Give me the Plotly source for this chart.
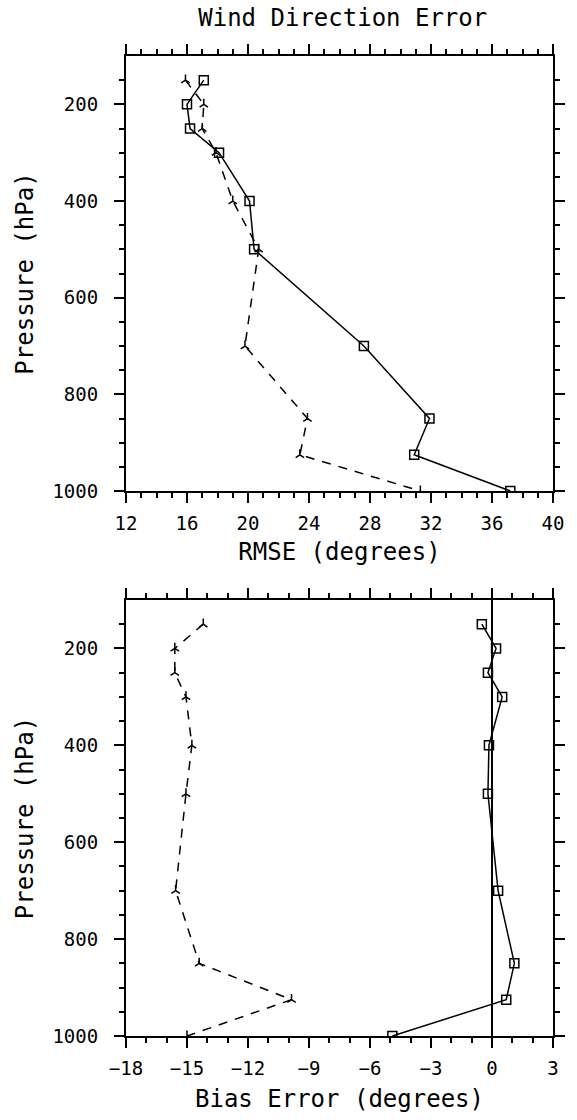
import plotly.graph_objects as go
from plotly.subplots import make_subplots

# Pressure levels (hPa)
pressure = [150, 200, 250, 300, 400, 500, 700, 850, 925, 1000]

# RMSE of wind direction (degrees)
rmse_solid = [17.1, 16.0, 16.2, 18.1, 20.1, 20.4, 27.6, 31.9, 30.9, 37.2]
rmse_dashed = [15.9, 17.1, 17.0, 17.9, 19.0, 20.7, 19.8, 23.9, 23.4, 31.3]

# Bias of wind direction (degrees)
bias_solid = [-0.5, 0.2, -0.2, 0.5, -0.15, -0.2, 0.3, 1.1, 0.7, -4.9]
bias_dashed = [-14.2, -15.6, -15.6, -15.05, -14.76, -15.05, -15.56, -14.4, -9.86, -15.0]

rmse_ticks = [12, 16, 20, 24, 28, 32, 36, 40]
bias_ticks = [-18, -15, -12, -9, -6, -3, 0, 3]
p_ticks = [200, 400, 600, 800, 1000]

FONT = "DejaVu Sans Mono"

fig = make_subplots(rows=2, cols=1, vertical_spacing=0.111)

def add_pair(row, solid, dashed):
    fig.add_trace(go.Scatter(
        x=solid, y=pressure, mode="lines+markers",
        line=dict(color="black", width=1.5),
        marker=dict(symbol="square-open", size=9, color="black",
                    line=dict(width=1.5, color="black")),
        showlegend=False), row=row, col=1)
    fig.add_trace(go.Scatter(
        x=dashed, y=pressure, mode="lines+markers",
        line=dict(color="black", width=1.5, dash="9px,8px"),
        marker=dict(symbol="y-up-open", size=7, color="black",
                    line=dict(width=1.5, color="black")),
        showlegend=False), row=row, col=1)

add_pair(1, rmse_solid, rmse_dashed)
add_pair(2, bias_solid, bias_dashed)

axis_common = dict(
    showline=True, linecolor="black", linewidth=2, mirror="allticks",
    ticks="outside", ticklen=10, tickwidth=2, tickcolor="black",
    showgrid=False, zeroline=False,
    tickfont=dict(family=FONT, size=19, color="black"),
    title_font=dict(family=FONT, size=24, color="black"),
    minor=dict(ticks="outside", ticklen=5, tickwidth=1.5, tickcolor="black",
               showgrid=False),
)

fig.update_xaxes(**axis_common, ticklabelstandoff=4)
fig.update_yaxes(**axis_common, ticklabelstandoff=12)

fig.update_xaxes(row=1, col=1, range=[12, 40], tickvals=rmse_ticks,
                 minor_dtick=1, title_text="RMSE (degrees)", title_standoff=10)
fig.update_xaxes(row=2, col=1, range=[-18, 3], tickvals=bias_ticks,
                 minor_dtick=1, title_text="Bias Error (degrees)", title_standoff=12,
                 zeroline=True, zerolinecolor="black", zerolinewidth=2)
for r in (1, 2):
    fig.update_yaxes(row=r, col=1, range=[1000, 100], tickvals=p_ticks,
                     minor=dict(tickvals=list(range(150, 1000, 50))),
                     title_text="Pressure (hPa)", title_standoff=12)

fig.update_layout(
    width=577, height=1120,
    margin=dict(l=126, r=16, t=56, b=84),
    paper_bgcolor="white", plot_bgcolor="white",
    title=dict(text="Wind Direction Error", x=0.594, xanchor="center",
               y=0.984, yanchor="middle",
               font=dict(family=FONT, size=24, color="black")),
)
fig.update_yaxes(row=1, col=1, domain=[0.5561, 1.0])
fig.update_yaxes(row=2, col=1, domain=[0.0, 0.4449])

fig.write_html("out.html")
